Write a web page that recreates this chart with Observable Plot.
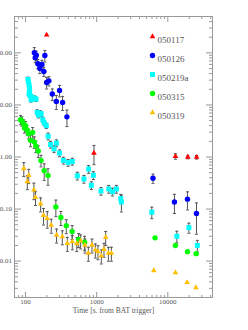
<!DOCTYPE html>
<html><head><meta charset="utf-8">
<script src="https://cdn.jsdelivr.net/npm/d3@7"></script>
<script src="https://cdn.jsdelivr.net/npm/@observablehq/plot@0.6"></script>
<style>body{margin:0;background:#fff;} #chart{width:248px;height:330px;overflow:hidden;}</style>
</head><body><div id="chart"></div>
<script>
// Series (GRB name, colour, symbol)
const names = ["050117", "050126", "050219a", "050315", "050319"];
const colors = ["#ff0000", "#0000ff", "#00ffff", "#00ff00", "#ffbf00"];
const symbols = ["triangle", "circle", "square", "circle", "triangle"];

// time [s], flux, relative error
const t050117 = [198, 916, 12800, 19100, 25400];
const f050117 = [221, 1.19, 1.03, 1.0, 0.99];
const e050117 = [0, 0.4, 0.12, 0.08, 0.08];

const t050126 = [133, 137, 142, 149, 159, 170, 181, 187, 198, 213, 238, 271, 301, 332, 382, 6190, 12400, 18900, 25300];
const f050126 = [101, 81, 90, 62, 50, 60, 44, 89, 27, 29, 16.2, 11.7, 19, 11.2, 5.9, 0.39, 0.137, 0.155, 0.082];
const e050126 = [0.25, 0.2, 0.2, 0.2, 0.2, 0.2, 0.2, 0.25, 0.25, 0.2, 0.25, 0.3, 0.25, 0.3, 0.35, 0.2, 0.4, 0.38, 0.6];

const t050219a = [108, 110, 112, 114, 114, 112, 116, 119.5, 121.5, 127.6, 134, 140.6, 146, 152, 161, 166, 175, 183, 196, 208, 225, 252, 272, 301, 341, 397, 455, 535, 662, 771, 842, 899, 1150, 1477, 1665, 1894, 2177, 2228, 5960, 13400, 19800, 26000];
const f050219a = [31, 28, 24.5, 21.4, 18.8, 16.4, 15.1, 12.6, 14.1, 13.5, 13.5, 12.9, 7.2, 6.4, 6.9, 6.7, 5.2, 4.5, 4.0, 2.5, 1.74, 1.43, 1.85, 1.19, 0.86, 0.78, 0.82, 0.435, 0.378, 0.585, 0.286, 0.445, 0.222, 0.243, 0.215, 0.243, 0.159, 0.137, 0.087, 0.030, 0.044, 0.020];
const e050219a = [0.1, 0.1, 0.1, 0.1, 0.1, 0.1, 0.1, 0.1, 0.1, 0.1, 0.1, 0.1, 0.12, 0.12, 0.12, 0.12, 0.12, 0.12, 0.12, 0.15, 0.15, 0.15, 0.15, 0.15, 0.15, 0.15, 0.15, 0.17, 0.17, 0.17, 0.17, 0.17, 0.17, 0.17, 0.17, 0.17, 0.2, 0.36, 0.25, 0.25, 0.22, 0.25];

const t050315 = [85, 89, 94.6, 96.8, 100, 105, 111, 117.5, 126, 133, 140, 151, 165, 183, 207, 267, 314, 374, 452, 558, 677, 6620, 12800, 18900, 25100];
const f050315 = [5.2, 4.9, 4.3, 3.6, 4.0, 3.3, 2.8, 2.1, 2.95, 1.95, 1.62, 1.30, 0.86, 0.547, 0.44, 0.110, 0.069, 0.048, 0.037, 0.026, 0.023, 0.028, 0.020, 0.0152, 0.0139];
const e050315 = [0.2, 0.2, 0.2, 0.2, 0.2, 0.2, 0.2, 0.25, 0.25, 0.25, 0.25, 0.25, 0.25, 0.35, 0.35, 0.35, 0.3, 0.3, 0.3, 0.3, 0.3, 0, 0, 0, 0];

const t050319 = [94.6, 106, 111, 131, 138, 163, 179, 202, 230, 273, 329, 387, 455, 526, 596, 684, 764, 859, 959, 1043, 1164, 1268, 1340, 1462, 1611, 6350, 12800, 18700, 24800];
const f050319 = [0.60, 0.337, 0.445, 0.233, 0.167, 0.126, 0.076, 0.066, 0.049, 0.0317, 0.0294, 0.022, 0.0236, 0.0218, 0.0245, 0.0204, 0.0142, 0.0204, 0.0164, 0.0152, 0.0126, 0.0169, 0.0286, 0.0142, 0.0142, 0.0066, 0.0060, 0.0039, 0.0031];
const e050319 = [0.3, 0.3, 0.3, 0.35, 0.3, 0.3, 0.35, 0.35, 0.3, 0.3, 0.3, 0.3, 0.3, 0.3, 0.3, 0.3, 0.3, 0.3, 0.3, 0.3, 0.3, 0.3, 0.3, 0.3, 0.3, 0, 0, 0, 0];

// Axis ticks
const xMajor = [100, 1000, 10000];
const xTickLabels = ["100", "1000", "10000"];
const xMinor = [80, 90, 200, 300, 400, 500, 600, 700, 800, 900, 2000, 3000, 4000, 5000, 6000, 7000, 8000, 9000, 20000, 30000, 40000];
const yMajor = [0.01, 0.1, 1, 10, 100];
const yTickLabels = ["0.01", "0.10", "1.00", "10.00", "100.00"];
const yMinor = [0.003, 0.004, 0.005, 0.006, 0.007, 0.008, 0.009, 0.02, 0.03, 0.04, 0.05, 0.06, 0.07, 0.08, 0.09, 0.2, 0.3, 0.4, 0.5, 0.6, 0.7, 0.8, 0.9, 2, 3, 4, 5, 6, 7, 8, 9, 20, 30, 40, 50, 60, 70, 80, 90, 200, 300, 400];
const xTitle = "Time [s. from BAT trigger]";

const series = [
  [t050117, f050117, e050117],
  [t050126, f050126, e050126],
  [t050219a, f050219a, e050219a],
  [t050315, f050315, e050315],
  [t050319, f050319, e050319]
].map(([t, f, e], i) => ({
  name: names[i], color: colors[i], symbol: symbols[i],
  rows: t.map((tt, j) => ({t: tt, f: f[j], lo: f[j] * (1 - e[j]), hi: f[j] * (1 + e[j]), e: e[j]}))
}));

const symR = {triangle: 2.1, circle: 2.7, square: 2.8};
const cap = {draw(ctx) { ctx.moveTo(-1.5, 0); ctx.lineTo(1.5, 0); }};
const frameGray = "#999";
const errGray = "#555";

const marks = [];
// inward ticks on all four sides
const tick = (axis, data, anchor, frameAnchor, size) =>
  axis(data, {anchor, frameAnchor, tickSize: size, tickFormat: () => "", label: null, stroke: frameGray});
marks.push(
  tick(Plot.axisX, xMajor, "top", "bottom", 6),
  tick(Plot.axisX, xMinor, "top", "bottom", 3),
  tick(Plot.axisX, xMajor, "bottom", "top", 6),
  tick(Plot.axisX, xMinor, "bottom", "top", 3),
  tick(Plot.axisY, yMajor, "right", "left", 6),
  tick(Plot.axisY, yMinor, "right", "left", 3),
  tick(Plot.axisY, yMajor, "left", "right", 6),
  tick(Plot.axisY, yMinor, "left", "right", 3),
  Plot.axisX(xMajor, {anchor: "bottom", tickSize: 0, tickPadding: 2, label: null, fill: "#555",
    tickFormat: d => xTickLabels[xMajor.indexOf(d)]}),
  Plot.axisY(yMajor, {anchor: "left", tickSize: 0, tickPadding: 2.5, label: null, fill: "#555",
    tickFormat: d => yTickLabels[yMajor.indexOf(d)]}),
  Plot.frame({stroke: frameGray}),
  Plot.text([xTitle], {frameAnchor: "bottom", dy: 15, fill: "#555", fontSize: 7.5})
);
for (const s of series) {
  const err = s.rows.filter(d => d.e > 0);
  marks.push(
    Plot.ruleX(err, {x: "t", y1: "lo", y2: "hi", stroke: errGray, strokeWidth: 1}),
    Plot.dot(err, {x: "t", y: "lo", symbol: cap, stroke: errGray, strokeWidth: 1}),
    Plot.dot(err, {x: "t", y: "hi", symbol: cap, stroke: errGray, strokeWidth: 1})
  );
}
for (const s of series) {
  marks.push(Plot.dot(s.rows, {x: "t", y: "f", symbol: s.symbol, fill: s.color, r: symR[s.symbol], stroke: "none"}));
}
// legend
series.forEach((s, i) => {
  marks.push(
    Plot.dot([s.name], {frameAnchor: "top-left", dx: 138, dy: 20 + 19 * i, symbol: s.symbol, fill: s.color, r: symR[s.symbol]}),
    Plot.text([s.name], {frameAnchor: "top-left", dx: 143, dy: 20 + 19 * i, textAnchor: "start", fill: "#555", fontSize: 9})
  );
});

const chart = Plot.plot({
  width: 248, height: 330,
  marginTop: 16, marginBottom: 33, marginLeft: 14, marginRight: 36,
  x: {type: "log", domain: [70, 42500], label: null},
  y: {type: "log", domain: [0.002, 500], label: null},
  style: {fontFamily: "'Liberation Serif', serif", fontSize: "7px", background: "white", overflow: "hidden"},
  marks
});
document.getElementById("chart").appendChild(chart);
</script>
</body></html>
